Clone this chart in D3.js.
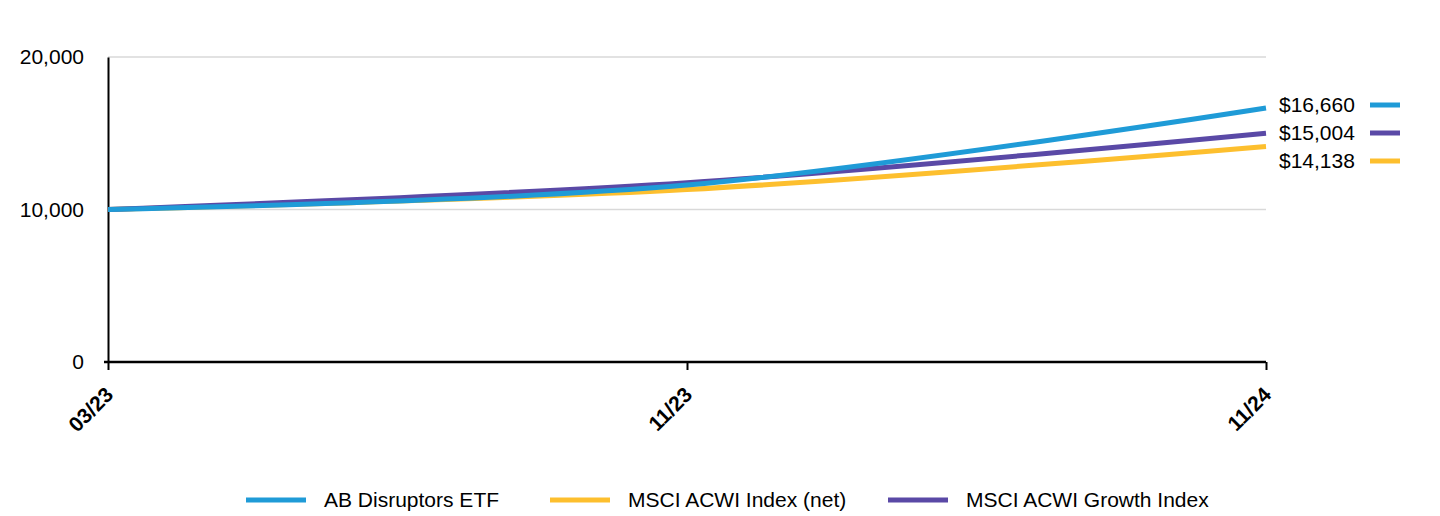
<!DOCTYPE html>
<html>
<head>
<meta charset="utf-8">
<script src="https://cdn.jsdelivr.net/npm/d3@7"></script>
<style>
  html, body { margin: 0; padding: 0; background: #fff; }
  svg { display: block; font-family: Arial, "Liberation Sans", sans-serif; }
</style>
</head>
<body>
<svg id="chart" width="1440" height="516"></svg>
<script>
const categories = ["03/23", "11/23", "11/24"];
const seriesNames = ["AB Disruptors ETF", "MSCI ACWI Index (net)", "MSCI ACWI Growth Index"];
const fundValues = [10000, 11600, 16660];
const acwiValues = [10000, 11310, 14138];
const growthValues = [10000, 11760, 15004];
const endLabels = ["$16,660", "$15,004", "$14,138"];
const yTicks = [0, 10000, 20000];

const colors = { fund: "#1f9bd7", acwi: "#fdbf2e", growth: "#5a49a6" };
const FS = 21;

const svg = d3.select("#chart");
const plotLeft = 108, plotRight = 1266, plotTop = 57, plotBottom = 362;

const x = d3.scalePoint().domain(categories).range([plotLeft, plotRight]);
const y = d3.scaleLinear().domain([0, 20000]).range([plotBottom, plotTop]);

// gridlines
svg.append("g").selectAll("line").data(yTicks.filter(d => d > 0)).join("line")
  .attr("x1", plotLeft).attr("x2", plotRight)
  .attr("y1", d => y(d)).attr("y2", d => y(d))
  .attr("stroke", "#d9d9d9").attr("stroke-width", 1.5);

// y axis
const yAxis = svg.append("g").attr("transform", `translate(${plotLeft},0)`)
  .call(d3.axisLeft(y).tickValues(yTicks).tickSize(0).tickPadding(24).tickFormat(d3.format(",")));
yAxis.select(".domain").attr("stroke", "#000").attr("stroke-width", 2);
yAxis.selectAll("text").attr("font-size", FS).attr("fill", "#000")
  .attr("font-family", "Arial, 'Liberation Sans', sans-serif");

// x axis
const xAxis = svg.append("g").attr("transform", `translate(0,${plotBottom})`)
  .call(d3.axisBottom(x).tickSize(8).tickSizeOuter(0));
xAxis.select(".domain").attr("stroke", "#000").attr("stroke-width", 2.5).attr("d", `M${plotLeft - 4},0H${plotRight}`);
xAxis.selectAll(".tick line").attr("stroke", "#000").attr("stroke-width", 2);
xAxis.selectAll("text")
  .attr("font-size", FS).attr("font-weight", "bold").attr("fill", "#000")
  .attr("font-family", "Arial, 'Liberation Sans', sans-serif")
  .attr("text-anchor", "end")
  .attr("dy", null).attr("y", 0)
  .attr("transform", "translate(6,34) rotate(-45)");

// lines
const line = d3.line().x((d, i) => x(categories[i])).y(d => y(d)).curve(d3.curveCatmullRom.alpha(0.5));
const series = [
  { vals: acwiValues, color: colors.acwi },
  { vals: growthValues, color: colors.growth },
  { vals: fundValues, color: colors.fund }
];
svg.append("g").selectAll("path").data(series).join("path")
  .attr("d", d => line(d.vals))
  .attr("fill", "none").attr("stroke", d => d.color).attr("stroke-width", 5)
  .attr("stroke-linecap", "butt");

// end labels
const endColors = [colors.fund, colors.growth, colors.acwi];
const endY = [105, 133, 161];
const eg = svg.append("g");
endLabels.forEach((t, i) => {
  eg.append("text").attr("x", 1279).attr("y", endY[i]).attr("dy", "0.35em")
    .attr("font-size", FS).attr("fill", "#000").text(t);
  eg.append("line").attr("x1", 1370).attr("x2", 1400).attr("y1", endY[i]).attr("y2", endY[i])
    .attr("stroke", endColors[i]).attr("stroke-width", 5);
});

// legend
const legendColors = [colors.fund, colors.acwi, colors.growth];
const legendX = [246, 550, 888];
const lg = svg.append("g");
seriesNames.forEach((n, i) => {
  lg.append("line").attr("x1", legendX[i]).attr("x2", legendX[i] + 60)
    .attr("y1", 500).attr("y2", 500).attr("stroke", legendColors[i]).attr("stroke-width", 5);
  lg.append("text").attr("x", legendX[i] + 78).attr("y", 500).attr("dy", "0.35em")
    .attr("font-size", FS).attr("fill", "#000").text(n);
});
</script>
</body>
</html>
